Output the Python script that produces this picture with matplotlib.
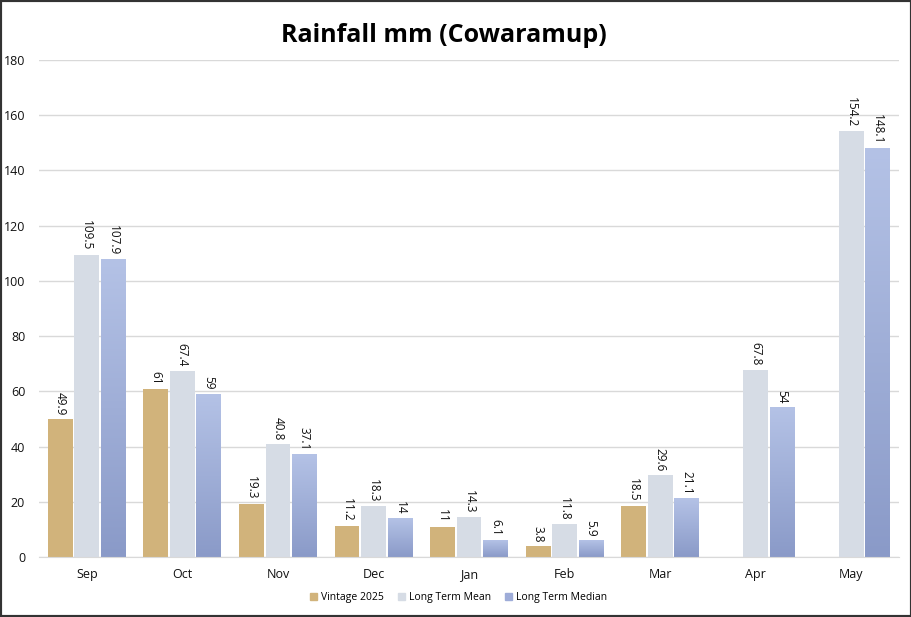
import numpy as np
import matplotlib
matplotlib.use("Agg")
import matplotlib.pyplot as plt
from matplotlib.colors import LinearSegmentedColormap
from matplotlib.patches import Rectangle

months = ["Sep", "Oct", "Nov", "Dec", "Jan", "Feb", "Mar", "Apr", "May"]
vintage_2025 = [49.9, 61, 19.3, 11.2, 11, 3.8, 18.5, np.nan, np.nan]
lt_mean = [109.5, 67.4, 40.8, 18.3, 14.3, 11.8, 29.6, 67.8, 154.2]
lt_median = [107.9, 59, 37.1, 14, 6.1, 5.9, 21.1, 54, 148.1]
series_names = ["Vintage 2025", "Long Term Mean", "Long Term Median"]
yticks = [0, 20, 40, 60, 80, 100, 120, 140, 160, 180]

plt.rcParams['font.family'] = ['Open Sans', 'DejaVu Sans']

fig = plt.figure(figsize=(9.12, 6.17), dpi=100)
fig.patch.set_facecolor("white")
ax = fig.add_axes([0.0428, 0.0973, 0.943, 0.8055])

x = np.arange(len(months))
w = 0.26
off = 0.277
c_vint = "#d1b37b"
c_mean = "#d6dce5"
c_med_top = "#b4c2e6"
c_med_bot = "#8a9ac8"

b1 = ax.bar(x - off, vintage_2025, w, color=c_vint, label=series_names[0], zorder=2)
b2 = ax.bar(x, lt_mean, w, color=c_mean, label=series_names[1], zorder=2)
b3 = ax.bar(x + off, lt_median, w, color=c_med_top, label=series_names[2], zorder=2)

cmap = LinearSegmentedColormap.from_list("g", [c_med_bot, c_med_top])
grad = np.linspace(0, 1, 256).reshape(-1, 1)
for r in b3:
    x0, h, bw = r.get_x(), r.get_height(), r.get_width()
    ax.imshow(grad, extent=(x0, x0 + bw, 0, h), origin="lower", cmap=cmap,
              aspect="auto", zorder=2.5)

def fmt(v):
    return ("%g" % v)

for bars, vals in [(b1, vintage_2025), (b2, lt_mean), (b3, lt_median)]:
    for r, v in zip(bars, vals):
        if np.isnan(v):
            continue
        ax.annotate(fmt(v), (r.get_x() + r.get_width() / 2, v), xytext=(0, 3),
                    textcoords="offset points", rotation=270, ha="center",
                    va="bottom", fontsize=8.5, color="#111111", zorder=4)

ax.set_xlim(-0.5, len(months) - 0.5)
ax.set_ylim(0, 180)
ax.set_yticks(yticks)
ax.set_xticks(x)
ax.set_xticklabels(months)
ax.tick_params(axis="both", length=0, labelsize=9, colors="#111111")
ax.tick_params(axis="y", pad=10)
ax.tick_params(axis="x", pad=8)
ax.grid(axis="y", color="#d9d9d9", linewidth=1, zorder=0)
ax.set_axisbelow(True)
for s in ["top", "right", "left"]:
    ax.spines[s].set_visible(False)
ax.spines["bottom"].set_color("#d9d9d9")

fig.text(0.487, 0.943, "Rainfall mm (Cowaramup)", ha="center", va="center",
         fontsize=18, fontweight="bold", color="black")

handles = [Rectangle((0, 0), 1, 1, color=c_vint),
           Rectangle((0, 0), 1, 1, color=c_mean),
           Rectangle((0, 0), 1, 1, color="#9eacd8")]
fig.legend(handles, series_names, loc="center", bbox_to_anchor=(0.503, 0.031),
           ncol=3, frameon=False, fontsize=7.5, handlelength=0.7, handleheight=0.7,
           handletextpad=0.4, columnspacing=1.3)

fig.add_artist(Rectangle((0, 0), 1, 1, transform=fig.transFigure, fill=False,
                         edgecolor="#333333", linewidth=3))

fig.savefig("out.png", dpi=100)
